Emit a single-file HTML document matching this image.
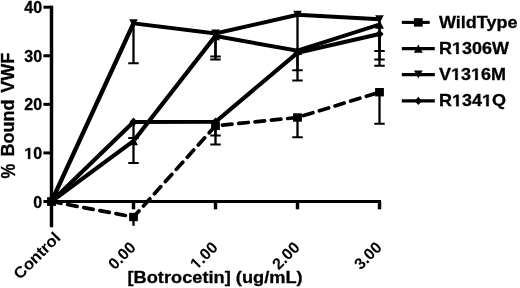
<!DOCTYPE html>
<html><head><meta charset="utf-8"><style>
html,body{margin:0;padding:0;background:#fff;}
svg{display:block;filter:grayscale(1);}
.t{font-family:"Liberation Sans",sans-serif;font-weight:bold;font-size:16px;fill:#000;stroke:#000;stroke-width:0.3px;}
.t2{font-family:"Liberation Sans",sans-serif;font-weight:bold;font-size:18px;fill:#000;stroke:#000;stroke-width:0.3px;}
.t3{font-family:"Liberation Sans",sans-serif;font-weight:bold;font-size:16.7px;fill:#000;stroke:#000;stroke-width:0.3px;}
.h{fill:none;stroke:none;}
.t5{font-family:"Liberation Sans",sans-serif;font-weight:bold;font-size:16px;fill:#000;stroke:#000;stroke-width:0.05px;}
.t4{font-family:"Liberation Sans",sans-serif;font-weight:bold;font-size:17.4px;fill:#000;stroke:#000;stroke-width:0.3px;}
</style></head><body>
<svg width="520" height="288" viewBox="0 0 520 288">
<rect width="520" height="288" fill="#fff"/>
<g transform="scale(1.15,1)">
<path d="M44.783,5.7 V227.3" stroke="#000" stroke-width="3.0"/>
<path d="M37.739,201.5 H44.783" stroke="#000" stroke-width="3.0"/>
<path d="M37.739,152.925 H44.783" stroke="#000" stroke-width="3.0"/>
<path d="M37.739,104.35 H44.783" stroke="#000" stroke-width="3.0"/>
<path d="M37.739,55.775000000000006 H44.783" stroke="#000" stroke-width="3.0"/>
<path d="M37.739,7.199999999999989 H44.783" stroke="#000" stroke-width="3.0"/>
<path d="M43.478,201.5 H331.304" stroke="#000" stroke-width="3.0"/>
<path d="M116.087,201.5 V209.3" stroke="#000" stroke-width="3.0"/>
<path d="M187.391,201.5 V209.3" stroke="#000" stroke-width="3.0"/>
<path d="M258.696,201.5 V209.3" stroke="#000" stroke-width="3.0"/>
<path d="M330.0,201.5 V209.3" stroke="#000" stroke-width="3.0"/>
<path d="M116.087,23.3 V63.2 M111.522,63.2 H120.652" stroke="#000" stroke-width="2.0" fill="none"/>
<path d="M116.087,122.0 V137.9 M111.522,137.9 H120.652" stroke="#000" stroke-width="2.0" fill="none"/>
<path d="M116.087,141.0 V163.0 M111.522,163.0 H120.652" stroke="#000" stroke-width="2.0" fill="none"/>
<path d="M187.391,33.5 V56.6 M182.826,56.6 H191.957" stroke="#000" stroke-width="2.0" fill="none"/>
<path d="M187.391,36.0 V59.6 M182.826,59.6 H191.957" stroke="#000" stroke-width="2.0" fill="none"/>
<path d="M187.391,121.8 V135.4 M182.826,135.4 H191.957" stroke="#000" stroke-width="2.0" fill="none"/>
<path d="M187.391,125.8 V144.4 M182.826,144.4 H191.957" stroke="#000" stroke-width="2.0" fill="none"/>
<path d="M258.696,14.8 V80.6 M254.13,80.6 H263.261" stroke="#000" stroke-width="2.0" fill="none"/>
<path d="M258.696,50.7 V70.2 M254.13,70.2 H263.261" stroke="#000" stroke-width="2.0" fill="none"/>
<path d="M258.696,117.5 V137.2 M254.13,137.2 H263.261" stroke="#000" stroke-width="2.0" fill="none"/>
<path d="M330.0,19.3 V51.0 M325.435,51.0 H334.565" stroke="#000" stroke-width="2.0" fill="none"/>
<path d="M330.0,24.5 V59.6 M325.435,59.6 H334.565" stroke="#000" stroke-width="2.0" fill="none"/>
<path d="M330.0,34.0 V65.8 M325.435,65.8 H334.565" stroke="#000" stroke-width="2.0" fill="none"/>
<path d="M330.0,92.2 V123.8 M325.435,123.8 H334.565" stroke="#000" stroke-width="2.0" fill="none"/>
<path d="M116.087,217 V225.8" stroke="#000" stroke-width="2.0"/>
</g>
<polyline points="51.5,201.5 133.5,217.0 215.5,125.8 297.5,117.5 379.5,92.2" fill="none" stroke="#000" stroke-width="3.7" stroke-linejoin="miter" stroke-dasharray="9.6 6.79" stroke-linecap="round"/>
<g transform="scale(1.15,1)">
<polyline points="44.783,201.5 116.087,141.0 187.391,36.0 258.696,50.7 330.0,24.5" fill="none" stroke="#000" stroke-width="3.9" stroke-linejoin="miter"/>
<polyline points="44.783,201.5 116.087,23.3 187.391,33.5 258.696,14.8 330.0,19.3" fill="none" stroke="#000" stroke-width="3.9" stroke-linejoin="miter"/>
<polyline points="44.783,201.5 116.087,122.0 187.391,121.8 258.696,52.8 330.0,34.0" fill="none" stroke="#000" stroke-width="3.9" stroke-linejoin="miter"/>
<rect x="40.957" y="197.3" width="7.652" height="8.4"/>
<rect x="112.261" y="212.8" width="7.652" height="8.4"/>
<rect x="183.565" y="121.6" width="7.652" height="8.4"/>
<rect x="254.87" y="113.3" width="7.652" height="8.4"/>
<rect x="326.174" y="88.0" width="7.652" height="8.4"/>
<path d="M40.87,205.7 L48.696,205.7 L44.783,197.3Z"/>
<path d="M112.174,145.2 L120.0,145.2 L116.087,136.8Z"/>
<path d="M183.478,40.2 L191.304,40.2 L187.391,31.8Z"/>
<path d="M254.783,54.900000000000006 L262.609,54.900000000000006 L258.696,46.5Z"/>
<path d="M326.087,28.7 L333.913,28.7 L330.0,20.3Z"/>
<path d="M41.043,197.5 L48.522,197.5 L44.783,205.5Z"/>
<path d="M112.348,19.3 L119.826,19.3 L116.087,27.3Z"/>
<path d="M183.652,29.5 L191.13,29.5 L187.391,37.5Z"/>
<path d="M254.957,10.8 L262.435,10.8 L258.696,18.8Z"/>
<path d="M326.261,15.3 L333.739,15.3 L330.0,23.3Z"/>
<path d="M44.783,197.1 L48.348,201.5 L44.783,205.9 L41.217,201.5Z"/>
<path d="M116.087,117.6 L119.652,122.0 L116.087,126.4 L112.522,122.0Z"/>
<path d="M187.391,117.39999999999999 L190.957,121.8 L187.391,126.2 L183.826,121.8Z"/>
<path d="M258.696,48.4 L262.261,52.8 L258.696,57.199999999999996 L255.13,52.8Z"/>
<path d="M330.0,29.6 L333.565,34.0 L330.0,38.4 L326.435,34.0Z"/>
<path d="M349.391,22.4 H373.652" stroke="#000" stroke-width="3.1"/>
<rect x="359.913" y="18.2" width="7.652" height="8.4"/>
<path d="M349.391,48.6 H378.087" stroke="#000" stroke-width="3.1"/>
<path d="M359.826,52.800000000000004 L367.652,52.800000000000004 L363.739,44.4Z"/>
<path d="M349.391,74.6 H378.087" stroke="#000" stroke-width="3.1"/>
<path d="M360.0,70.6 L367.478,70.6 L363.739,78.6Z"/>
<path d="M349.391,100.9 H378.087" stroke="#000" stroke-width="3.1"/>
<path d="M363.739,96.7 L366.783,100.9 L363.739,105.10000000000001 L360.696,100.9Z"/>
</g>
<text id="tx1" x="42.1" y="207.5" text-anchor="end" class="t">0</text>
<text id="tx2" x="42.1" y="158.925" text-anchor="end" class="t"><tspan class="h">1</tspan>0</text>
<text id="tx3" x="42.1" y="110.35" text-anchor="end" class="t">20</text>
<text id="tx4" x="42.1" y="61.775" text-anchor="end" class="t">30</text>
<text id="tx5" x="42.1" y="13.2" text-anchor="end" class="t">40</text>
<text id="tx6" x="0" y="0" transform="translate(61.4,238.8) rotate(-45)" text-anchor="end" class="t5" textLength="58.6" lengthAdjust="spacingAndGlyphs">Control</text>
<text id="tx7" x="0" y="0" transform="translate(136.7,248.4) rotate(-45)" text-anchor="end" class="t5">0.00</text>
<text id="tx8" x="0" y="0" transform="translate(218.7,248.4) rotate(-45)" text-anchor="end" class="t5"><tspan class="h">1</tspan>.00</text>
<text id="tx9" x="0" y="0" transform="translate(300.7,248.4) rotate(-45)" text-anchor="end" class="t5">2.00</text>
<text id="tx10" x="0" y="0" transform="translate(382.7,248.4) rotate(-45)" text-anchor="end" class="t5">3.00</text>
<text id="tx11" x="0" y="0" transform="translate(14.2,92.75) rotate(-90)" class="t2">VWF</text>
<text id="tx12" x="0" y="0" transform="translate(14.2,156.55) rotate(-90)" class="t2">Bound</text>
<text id="tx13" x="0" y="0" transform="translate(15.0,178.6) rotate(-90)" class="t2" style="font-size:19.5px" textLength="14.7" lengthAdjust="spacingAndGlyphs">%</text>
<text id="tx14" x="215.1" y="283" text-anchor="middle" class="t4" textLength="175.2" lengthAdjust="spacingAndGlyphs">[Botrocetin] (ug/mL)</text>
<text id="tx15" x="0" y="0" transform="translate(439,27.7) scale(1.078,1)" class="t3">WildType</text>
<text id="tx16" x="0" y="0" transform="translate(439,53.9) scale(1.078,1)" class="t3">R<tspan class="h">1</tspan>306W</text>
<text id="tx17" x="0" y="0" transform="translate(439,79.89999999999999) scale(1.078,1)" class="t3">V<tspan class="h">1</tspan>3<tspan class="h">1</tspan>6M</text>
<text id="tx18" x="0" y="0" transform="translate(439,106.2) scale(1.078,1)" class="t3">R<tspan class="h">1</tspan>34<tspan class="h">1</tspan>Q</text>
<path transform="translate(24.287,158.925) scale(0.007812,-0.007812)" d="M478 0V1170L140 959V1180L493 1409H759V0Z" fill="#000" stroke="#000" stroke-width="38.40"/>
<path transform="translate(218.7,248.4) rotate(-45) translate(-31.156,0.000) scale(0.007812,-0.007812)" d="M478 0V1170L140 959V1180L493 1409H759V0Z" fill="#000" stroke="#000" stroke-width="6.40"/>
<path transform="translate(439,53.9) scale(1.078,1) translate(12.067,0.000) scale(0.008154,-0.008154)" d="M478 0V1170L140 959V1180L493 1409H759V0Z" fill="#000" stroke="#000" stroke-width="36.79"/>
<path transform="translate(439,79.89999999999999) scale(1.078,1) translate(11.151,0.000) scale(0.008154,-0.008154)" d="M478 0V1170L140 959V1180L493 1409H759V0Z" fill="#000" stroke="#000" stroke-width="36.79"/>
<path transform="translate(439,79.89999999999999) scale(1.078,1) translate(29.725,0.000) scale(0.008154,-0.008154)" d="M478 0V1170L140 959V1180L493 1409H759V0Z" fill="#000" stroke="#000" stroke-width="36.79"/>
<path transform="translate(439,106.2) scale(1.078,1) translate(12.067,0.000) scale(0.008154,-0.008154)" d="M478 0V1170L140 959V1180L493 1409H759V0Z" fill="#000" stroke="#000" stroke-width="36.79"/>
<path transform="translate(439,106.2) scale(1.078,1) translate(39.929,0.000) scale(0.008154,-0.008154)" d="M478 0V1170L140 959V1180L493 1409H759V0Z" fill="#000" stroke="#000" stroke-width="36.79"/>
</svg>
</body></html>
